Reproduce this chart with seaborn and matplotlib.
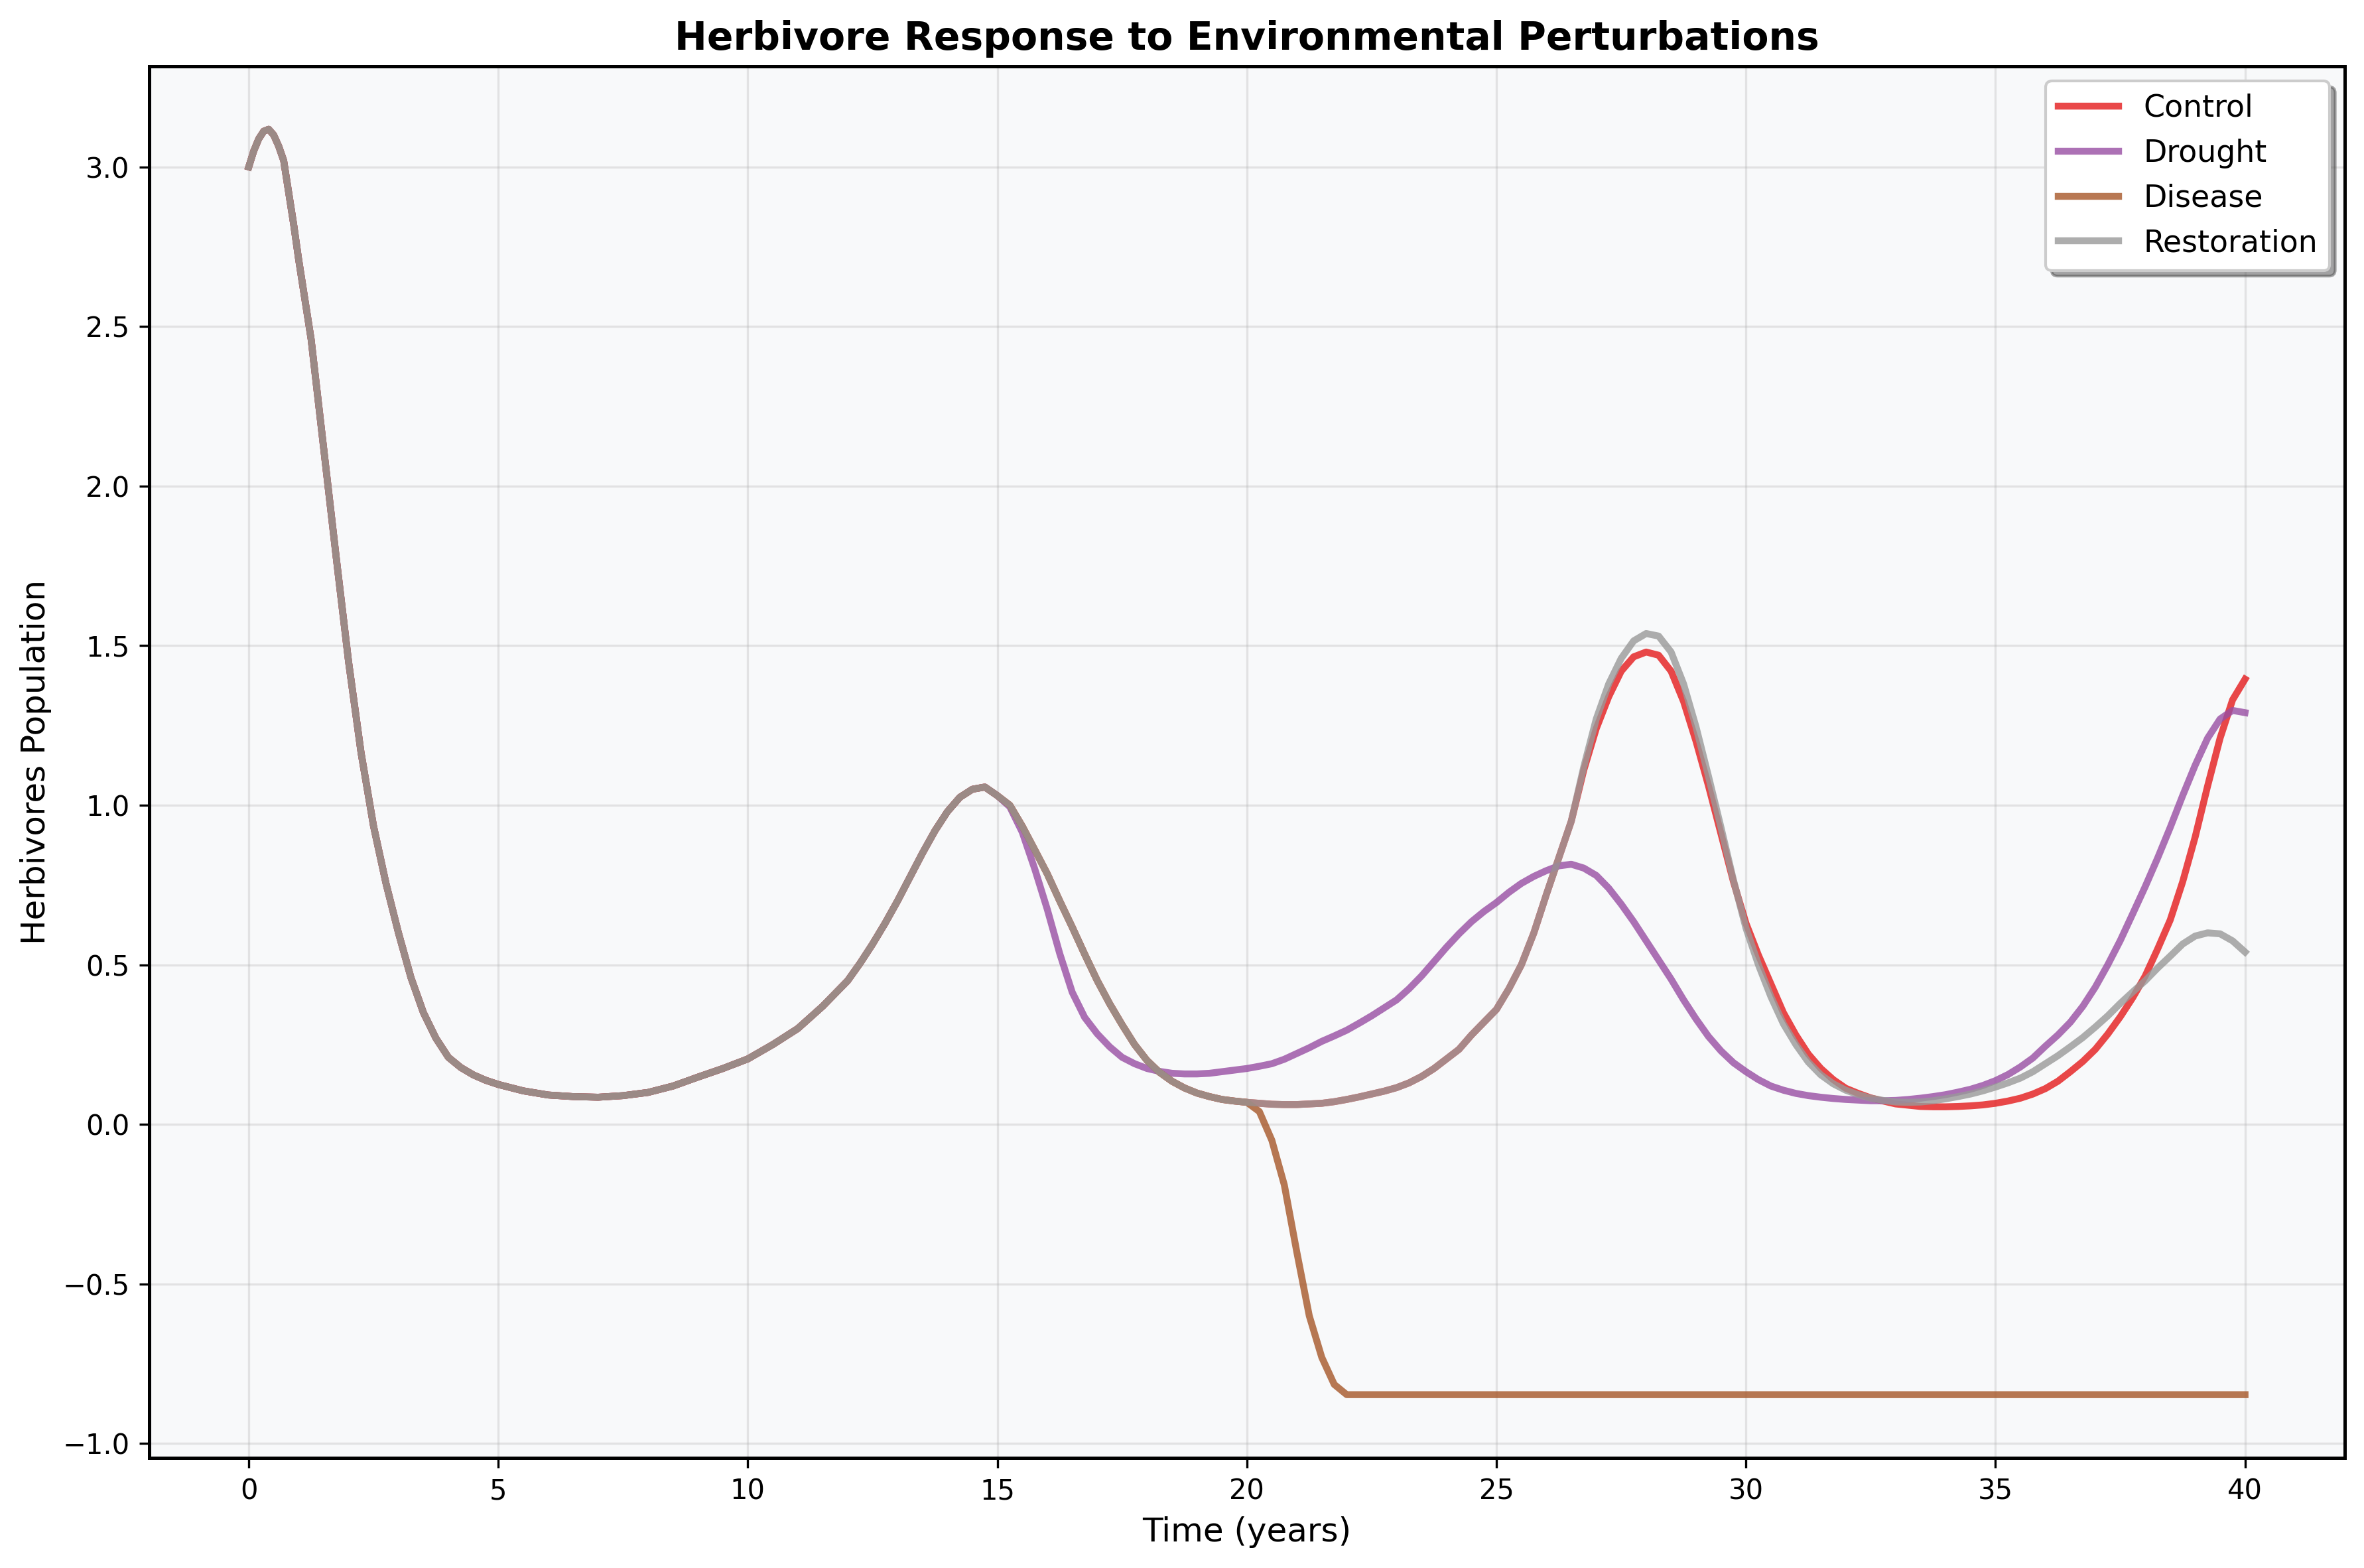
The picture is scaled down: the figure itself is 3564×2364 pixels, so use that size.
import numpy as np
import pandas as pd
import matplotlib
matplotlib.use("Agg")
import matplotlib.pyplot as plt
import seaborn as sns

# Shared trajectory before the perturbations (years 0-15)
years_base = [0, 0.1, 0.2, 0.3, 0.4, 0.5, 0.6, 0.7, 0.8, 0.9, 1.0,
              1.25, 1.5, 1.75, 2.0, 2.25, 2.5, 2.75, 3.0, 3.25, 3.5, 3.75, 4.0,
              4.25, 4.5, 4.75, 5.0,
              5.5, 6.0, 6.5, 7.0, 7.5, 8.0, 8.5, 9.0, 9.5, 10.0, 10.5, 11.0, 11.5, 12.0,
              12.25, 12.5, 12.75, 13.0, 13.25, 13.5, 13.75, 14.0, 14.25, 14.5, 14.75, 15.0]
herb_base = [3.00, 3.05, 3.088, 3.112, 3.118, 3.10, 3.065, 3.02, 2.92, 2.82, 2.71,
             2.46, 2.12, 1.78, 1.45, 1.165, 0.935, 0.755, 0.60, 0.46, 0.35, 0.27, 0.21,
             0.178, 0.155, 0.138, 0.125,
             0.105, 0.092, 0.087, 0.085, 0.09, 0.10, 0.12, 0.148, 0.175, 0.205, 0.25, 0.30, 0.37, 0.45,
             0.505, 0.565, 0.63, 0.70, 0.775, 0.85, 0.92, 0.98, 1.025, 1.05, 1.057, 1.03]

# After year 15, every quarter year (15.25 ... 40.0)
years_tail = list(np.arange(15.25, 40.01, 0.25))

control_tail = [1.00, 0.934, 0.86, 0.785, 0.70, 0.618, 0.533, 0.451,
                0.378, 0.312, 0.25, 0.20, 0.163, 0.135, 0.114, 0.098,
                0.087, 0.078, 0.073, 0.069, 0.066, 0.063, 0.062, 0.062,
                0.064, 0.066, 0.071, 0.078, 0.086, 0.095, 0.104, 0.115,
                0.13, 0.15, 0.175, 0.205, 0.235, 0.28, 0.32, 0.36,
                0.425, 0.50, 0.60, 0.72, 0.835, 0.95, 1.11, 1.24,
                1.34, 1.42, 1.465, 1.48, 1.47, 1.42, 1.325, 1.20,
                1.06, 0.91, 0.76, 0.63, 0.53, 0.44, 0.35, 0.28,
                0.22, 0.175, 0.14, 0.113, 0.097, 0.083, 0.073, 0.064,
                0.06, 0.056, 0.055, 0.055, 0.056, 0.058, 0.061, 0.066,
                0.073, 0.082, 0.095, 0.112, 0.135, 0.165, 0.197, 0.235,
                0.283, 0.337, 0.397, 0.465, 0.55, 0.64, 0.76, 0.90,
                1.06, 1.21, 1.33, 1.395]

drought_tail = [0.995, 0.915, 0.80, 0.674, 0.535, 0.414, 0.335, 0.284,
                0.243, 0.21, 0.19, 0.175, 0.166, 0.16, 0.158, 0.158,
                0.16, 0.165, 0.17, 0.175, 0.182, 0.19, 0.204, 0.222,
                0.24, 0.26, 0.277, 0.295, 0.317, 0.34, 0.365, 0.39,
                0.425, 0.465, 0.51, 0.555, 0.597, 0.635, 0.667, 0.695,
                0.727, 0.755, 0.777, 0.795, 0.81, 0.815, 0.803, 0.78,
                0.74, 0.69, 0.635, 0.575, 0.515, 0.455, 0.39, 0.33,
                0.275, 0.23, 0.193, 0.165, 0.14, 0.12, 0.107, 0.097,
                0.09, 0.085, 0.081, 0.078, 0.076, 0.074, 0.074, 0.075,
                0.078, 0.082, 0.087, 0.093, 0.101, 0.11, 0.122, 0.137,
                0.156, 0.18, 0.208, 0.245, 0.28, 0.32, 0.37, 0.43,
                0.50, 0.576, 0.66, 0.745, 0.835, 0.93, 1.03, 1.125,
                1.21, 1.27, 1.297, 1.29]

restoration_tail = [1.00, 0.934, 0.86, 0.785, 0.70, 0.618, 0.533, 0.451,
                    0.378, 0.312, 0.25, 0.20, 0.163, 0.135, 0.114, 0.098,
                    0.087, 0.078, 0.073, 0.069, 0.066, 0.063, 0.062, 0.062,
                    0.064, 0.066, 0.071, 0.078, 0.086, 0.095, 0.104, 0.115,
                    0.13, 0.15, 0.175, 0.205, 0.235, 0.28, 0.32, 0.36,
                    0.425, 0.50, 0.60, 0.72, 0.835, 0.95, 1.12, 1.27,
                    1.38, 1.46, 1.515, 1.538, 1.53, 1.48, 1.38, 1.245,
                    1.09, 0.93, 0.765, 0.615, 0.50, 0.40, 0.315, 0.25,
                    0.195, 0.155, 0.127, 0.107, 0.093, 0.082, 0.075, 0.07,
                    0.069, 0.07, 0.074, 0.08, 0.087, 0.095, 0.105, 0.117,
                    0.13, 0.145, 0.165, 0.19, 0.215, 0.243, 0.272, 0.305,
                    0.34, 0.379, 0.415, 0.45, 0.49, 0.527, 0.565, 0.59,
                    0.60, 0.597, 0.575, 0.54]

# Disease crashes after year 20 and stays flat
years_disease = [15.25, 15.5, 15.75, 16.0, 16.25, 16.5, 16.75, 17.0,
                 17.25, 17.5, 17.75, 18.0, 18.25, 18.5, 18.75, 19.0,
                 19.25, 19.5, 19.75, 20.0, 20.25, 20.5, 20.75, 21.0,
                 21.25, 21.5, 21.75, 22.0, 40.0]
disease_tail = [1.00, 0.934, 0.86, 0.785, 0.70, 0.618, 0.533, 0.451,
                0.378, 0.312, 0.25, 0.20, 0.163, 0.135, 0.114, 0.098,
                0.087, 0.078, 0.073, 0.069, 0.04, -0.05, -0.19, -0.40,
                -0.60, -0.73, -0.815, -0.847, -0.847]

scenarios = ["Control", "Drought", "Disease", "Restoration"]
tails = {
    "Control": (years_tail, control_tail),
    "Drought": (years_tail, drought_tail),
    "Disease": (years_disease, disease_tail),
    "Restoration": (years_tail, restoration_tail),
}

frames = []
for name in scenarios:
    t_tail, v_tail = tails[name]
    frames.append(pd.DataFrame({
        "Time (years)": years_base + [float(t) for t in t_tail],
        "Herbivores Population": herb_base + list(v_tail),
        "Scenario": name,
    }))
df = pd.concat(frames, ignore_index=True)

colors = plt.cm.Set1(np.linspace(0, 1, len(scenarios)))
palette = {name: colors[i] for i, name in enumerate(scenarios)}

fig = plt.figure(figsize=(11.88, 7.88), dpi=300)
ax = fig.add_axes([0.063, 0.0702, 0.9289, 0.8877])
ax.set_facecolor("#f8f9fa")

sns.lineplot(data=df, x="Time (years)", y="Herbivores Population", hue="Scenario",
             hue_order=scenarios, palette=palette, linewidth=2.5, alpha=0.8,
             estimator=None, sort=False, ax=ax)

ax.set_title("Herbivore Response to Environmental Perturbations", fontsize=14, fontweight="bold")
ax.set_xlabel("Time (years)", fontsize=12)
ax.set_ylabel("Herbivores Population", fontsize=12)
ax.grid(True, alpha=0.3)
for spine in ax.spines.values():
    spine.set_linewidth(1.2)
    spine.set_color("black")

leg = ax.legend(loc="upper right", fontsize=11, frameon=True, fancybox=True, shadow=True)
leg.get_frame().set_facecolor("white")
for line in leg.get_lines():
    line.set_linewidth(2.5)
    line.set_alpha(0.8)

fig.savefig("out.png", dpi=300)
